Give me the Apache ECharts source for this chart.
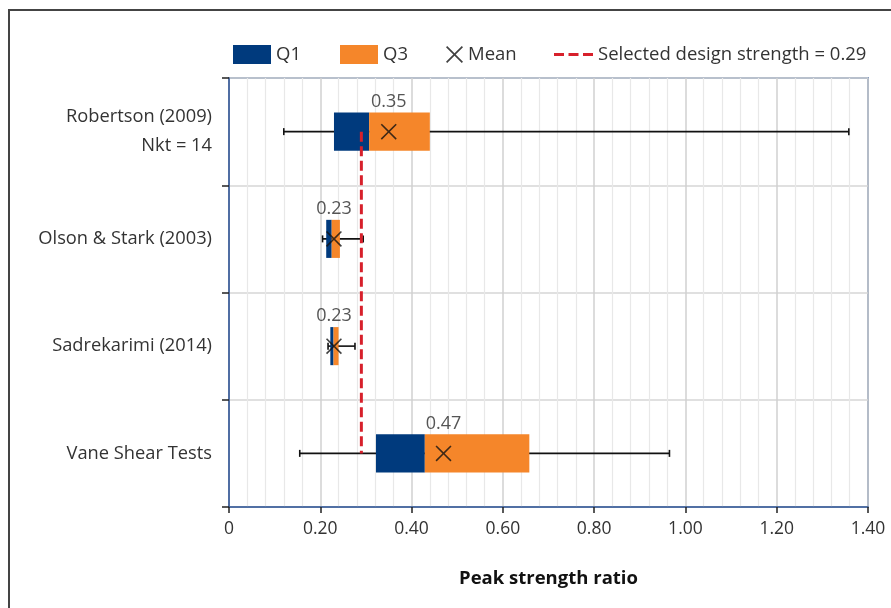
<!DOCTYPE html>
<html>
<head>
<meta charset="utf-8">
<script src="https://cdn.jsdelivr.net/npm/echarts@6/dist/echarts.min.js"></script>
<style>html,body{margin:0;padding:0;background:#fff;}#c{width:891px;height:608px;}</style>
</head>
<body>
<div id="c"></div>
<script>
const categories = ['Robertson (2009)\nNkt = 14', 'Olson & Stark (2003)', 'Sadrekarimi (2014)', 'Vane Shear Tests'];
const minVals  = [0.120, 0.205, 0.217, 0.155];
const q1Vals   = [0.230, 0.213, 0.222, 0.322];
const medVals  = [0.307, 0.225, 0.229, 0.429];
const q3Vals   = [0.440, 0.243, 0.240, 0.658];
const maxVals  = [1.358, 0.294, 0.276, 0.965];
const meanVals = [0.35, 0.23, 0.23, 0.47];
const designStrength = 0.29;

const FONT = 'Open Sans';
const TXT = '#333';
const NAVY = '#003a7d';
const ORANGE = '#f5862a';
const RED = '#d7202b';
const BLUE = '#2f5597';
const BOX = 0.355;
const XPATH = 'path://M0,7 L7,0 L50,43 L93,0 L100,7 L57,50 L100,93 L93,100 L50,57 L7,100 L0,93 L43,50 Z';
const DASHPATH = 'path://M0,0 h10 v3 h-10 Z M14.5,0 h10 v3 h-10 Z M29,0 h10 v3 h-10 Z';

function boxRender(params, api) {
  const yi = api.value(0);
  const a = api.coord([api.value(1), yi]);
  const b = api.coord([api.value(2), yi]);
  const h = api.size([0, 1])[1] * BOX;
  return { type: 'rect', shape: { x: a[0], y: a[1] - h / 2, width: b[0] - a[0], height: h },
           style: { fill: api.visual('color') } };
}
function whiskerRender(params, api) {
  const yi = api.value(0);
  const a = api.coord([api.value(1), yi]);
  const b = api.coord([api.value(2), yi]);
  const c = 3.5;
  const st = { stroke: '#111', lineWidth: 1.6 };
  return { type: 'group', children: [
    { type: 'line', shape: { x1: a[0], y1: a[1], x2: b[0], y2: b[1] }, style: st },
    { type: 'line', shape: { x1: a[0], y1: a[1] - c, x2: a[0], y2: a[1] + c }, style: st },
    { type: 'line', shape: { x1: b[0], y1: b[1] - c, x2: b[0], y2: b[1] + c }, style: st }
  ]};
}

const legendText = { fontFamily: FONT, fontSize: 18.5, color: TXT };
const chart = echarts.init(document.getElementById('c'));
chart.setOption({
  animation: false,
  backgroundColor: '#fff',
  graphic: [{ type: 'rect', silent: true, shape: { x: 9, y: 10, width: 900, height: 620 },
              style: { fill: 'none', stroke: '#444', lineWidth: 2 } }],
  legend: [
    { left: 228, top: 40, itemWidth: 38, itemHeight: 19, itemGap: 0, itemTextGap: 7, selectedMode: false,
      textStyle: legendText, data: [{ name: 'Q1', icon: 'rect' }] },
    { left: 335, top: 40, itemWidth: 38, itemHeight: 19, itemGap: 0, itemTextGap: 7, selectedMode: false,
      textStyle: legendText, data: [{ name: 'Q3', icon: 'rect' }] },
    { left: 441, top: 40, itemWidth: 17, itemHeight: 17, itemGap: 0, itemTextGap: 5, selectedMode: false,
      textStyle: legendText, data: [{ name: 'Mean', icon: XPATH }] },
    { left: 549, top: 40, itemWidth: 39, itemHeight: 19, itemGap: 0, itemTextGap: 7, selectedMode: false,
      textStyle: legendText,
      data: [{ name: 'Selected design strength = ' + designStrength.toFixed(2), icon: DASHPATH,
               itemStyle: { color: RED } }] }
  ],
  grid: { left: 229, right: 23, top: 78, bottom: 101, show: true, borderColor: BLUE, borderWidth: 1.5 },
  xAxis: {
    type: 'value', min: 0, max: 1.4, interval: 0.2,
    axisLine: { show: true, lineStyle: { color: BLUE, width: 1.5 } },
    axisTick: { show: true, length: 6, lineStyle: { color: '#222', width: 1.5 } },
    axisLabel: { margin: 13, fontFamily: FONT, fontSize: 17.5, color: TXT,
                 formatter: v => (v === 0 ? '0' : v.toFixed(2)) },
    splitLine: { show: true, lineStyle: { color: '#d0d0d0', width: 1.5 } },
    minorTick: { show: false, splitNumber: 5 },
    minorSplitLine: { show: true, lineStyle: { color: '#e8e8e8', width: 1.2 } },
    name: 'Peak strength ratio', nameLocation: 'middle', nameGap: 62,
    nameTextStyle: { fontFamily: FONT, fontSize: 18.5, fontWeight: 'bold', color: '#111' }
  },
  yAxis: {
    type: 'category', inverse: true, data: categories,
    axisLine: { show: true, lineStyle: { color: BLUE, width: 1.5 } },
    axisTick: { show: true, length: 7, lineStyle: { color: '#222', width: 1.5 } },
    axisLabel: { margin: 17, fontFamily: FONT, fontSize: 18.3, color: TXT, lineHeight: 29, align: 'right' },
    splitLine: { show: true, lineStyle: { color: '#d6d6d6', width: 1.5 } }
  },
  series: [
    { type: 'custom', name: 'whisker', renderItem: whiskerRender, encode: { x: [1, 2], y: 0 }, z: 2,
      data: categories.map((c, i) => [i, minVals[i], maxVals[i]]) },
    { type: 'custom', name: 'Q1', renderItem: boxRender, encode: { x: [1, 2], y: 0 }, z: 3,
      itemStyle: { color: NAVY },
      data: categories.map((c, i) => [i, q1Vals[i], medVals[i]]) },
    { type: 'custom', name: 'Q3', renderItem: boxRender, encode: { x: [1, 2], y: 0 }, z: 3,
      itemStyle: { color: ORANGE },
      data: categories.map((c, i) => [i, medVals[i], q3Vals[i]]) },
    { type: 'line', name: 'Selected design strength = ' + designStrength.toFixed(2), z: 4,
      symbol: 'none', showSymbol: false, lineStyle: { color: RED, width: 3, type: [10, 4.5] }, itemStyle: { color: RED },
      data: [[designStrength, 0], [designStrength, categories.length - 1]] },
    { type: 'scatter', name: 'Mean', z: 5, symbol: XPATH, symbolSize: 16,
      itemStyle: { color: '#111' },
      label: { show: true, position: 'top', distance: 13, fontFamily: FONT, fontSize: 18, color: '#2a2a2a',
               formatter: p => p.value[0].toFixed(2) },
      data: meanVals.map((v, i) => [v, i]) }
  ]
});
</script>
</body>
</html>
